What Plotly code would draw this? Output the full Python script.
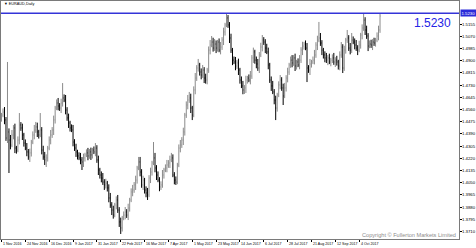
import plotly.graph_objects as go

# ---------------- data (EURAUD daily) ----------------
opens = [1.4500, 1.4521, 1.4542, 1.4487, 1.4361, 1.4403, 1.4347, 1.4312, 1.4382, 1.4431,
         1.4291, 1.4277, 1.4347, 1.4452, 1.4431, 1.4382, 1.4326, 1.4291, 1.4264, 1.4229,
         1.4257, 1.4333, 1.4382, 1.4417, 1.4438, 1.4403, 1.4382, 1.4417, 1.4277, 1.4229,
         1.4208, 1.4222, 1.4291, 1.4347, 1.4382, 1.4417, 1.4487, 1.4570, 1.4605, 1.4584,
         1.4570, 1.4605, 1.4640, 1.4626, 1.4556, 1.4501, 1.4466, 1.4431, 1.4417, 1.4333,
         1.4291, 1.4264, 1.4236, 1.4222, 1.4208, 1.4194, 1.4222, 1.4243, 1.4257, 1.4236,
         1.4264, 1.4243, 1.4277, 1.4264, 1.4291, 1.4208, 1.4138, 1.4103, 1.4082, 1.4054,
         1.4034, 1.4047, 1.4013, 1.3943, 1.3894, 1.3859, 1.3824, 1.3894, 1.3929, 1.3859,
         1.3776, 1.3734, 1.3803, 1.3824, 1.3845, 1.3824, 1.3873, 1.3929, 1.3985, 1.3999,
         1.4034, 1.4068, 1.4152, 1.4194, 1.4124, 1.4034, 1.4068, 1.3999, 1.3978, 1.3964,
         1.4082, 1.4124, 1.4187, 1.4222, 1.4152, 1.4103, 1.4068, 1.4020, 1.4034, 1.4103,
         1.4138, 1.4152, 1.4173, 1.4187, 1.4208, 1.4222, 1.4103, 1.4068, 1.4054, 1.4173,
         1.4291, 1.4312, 1.4347, 1.4403, 1.4521, 1.4591, 1.4626, 1.4640, 1.4570, 1.4521,
         1.4696, 1.4779, 1.4849, 1.4870, 1.4821, 1.4800, 1.4835, 1.4779, 1.4765, 1.4835,
         1.4974, 1.5009, 1.5030, 1.4988, 1.5016, 1.4988, 1.5030, 1.4974, 1.4995, 1.5044,
         1.5100, 1.5149, 1.5198, 1.5149, 1.5058, 1.4974, 1.4904, 1.4891, 1.4863, 1.4884,
         1.4835, 1.4765, 1.4724, 1.4696, 1.4710, 1.4765, 1.4779, 1.4765, 1.4793, 1.4919,
         1.4961, 1.4904, 1.4877, 1.4849, 1.4940, 1.4995, 1.5044, 1.5030, 1.4988, 1.4961,
         1.4870, 1.4765, 1.4724, 1.4682, 1.4626, 1.4570, 1.4661, 1.4731, 1.4765, 1.4710,
         1.4654, 1.4710, 1.4779, 1.4821, 1.4870, 1.4904, 1.4884, 1.4919, 1.4863, 1.4891,
         1.4870, 1.4904, 1.4974, 1.5002, 1.5016, 1.4988, 1.4849, 1.4835, 1.4877, 1.4891,
         1.4904, 1.4940, 1.5009, 1.5044, 1.5058, 1.5023, 1.4974, 1.4940, 1.4919, 1.4904,
         1.4919, 1.4891, 1.4904, 1.4919, 1.4891, 1.4904, 1.4891, 1.4863, 1.4940, 1.4995,
         1.4849, 1.4974, 1.5044, 1.5058, 1.4988, 1.4974, 1.5044, 1.5030, 1.5009, 1.4988,
         1.4974, 1.5009, 1.5079, 1.5128, 1.5183, 1.5114, 1.5072, 1.5002, 1.5016, 1.5009,
         1.5030, 1.5023, 1.5044, 1.5072, 1.5114]

highs = [1.4536, 1.4567, 1.4577, 1.4507, 1.4891, 1.4428, 1.4382, 1.4417, 1.4451, 1.4461,
         1.4306, 1.4372, 1.4535, 1.4472, 1.4461, 1.4397, 1.4351, 1.4326, 1.4284, 1.4287,
         1.4348, 1.4407, 1.4452, 1.4473, 1.4468, 1.4418, 1.4535, 1.4437, 1.4307, 1.4264,
         1.4247, 1.4306, 1.4372, 1.4417, 1.4437, 1.4517, 1.4585, 1.4630, 1.4640, 1.4604,
         1.4635, 1.4744, 1.4665, 1.4661, 1.4576, 1.4531, 1.4481, 1.4456, 1.4452, 1.4353,
         1.4321, 1.4279, 1.4261, 1.4257, 1.4228, 1.4252, 1.4258, 1.4282, 1.4292, 1.4284,
         1.4294, 1.4292, 1.4302, 1.4326, 1.4311, 1.4238, 1.4153, 1.4128, 1.4117, 1.4074,
         1.4077, 1.4062, 1.4038, 1.3978, 1.3914, 1.3889, 1.3909, 1.3954, 1.3964, 1.3879,
         1.3806, 1.3818, 1.3849, 1.3880, 1.3865, 1.3903, 1.3944, 1.4010, 1.4034, 1.4054,
         1.4098, 1.4167, 1.4229, 1.4229, 1.4144, 1.4098, 1.4083, 1.4024, 1.4013, 1.4102,
         1.4154, 1.4202, 1.4333, 1.4257, 1.4172, 1.4128, 1.4088, 1.4059, 1.4138, 1.4153,
         1.4177, 1.4208, 1.4207, 1.4238, 1.4257, 1.4247, 1.4123, 1.4093, 1.4188, 1.4316,
         1.4347, 1.4367, 1.4433, 1.4536, 1.4616, 1.4661, 1.4682, 1.4670, 1.4585, 1.4721,
         1.4814, 1.4869, 1.4912, 1.4885, 1.4846, 1.4870, 1.4855, 1.4809, 1.4850, 1.4999,
         1.5044, 1.5072, 1.5060, 1.5051, 1.5041, 1.5045, 1.5055, 1.5030, 1.5064, 1.5130,
         1.5164, 1.5230, 1.5218, 1.5169, 1.5088, 1.4989, 1.4929, 1.4926, 1.4904, 1.4914,
         1.4850, 1.4790, 1.4759, 1.4730, 1.4795, 1.4794, 1.4804, 1.4828, 1.4939, 1.4991,
         1.4976, 1.4929, 1.4912, 1.4960, 1.5025, 1.5079, 1.5064, 1.5050, 1.5018, 1.4991,
         1.4885, 1.4790, 1.4759, 1.4702, 1.4656, 1.4676, 1.4756, 1.4800, 1.4785, 1.4740,
         1.4745, 1.4799, 1.4851, 1.4885, 1.4929, 1.4939, 1.4939, 1.4949, 1.4906, 1.4916,
         1.4939, 1.4994, 1.5032, 1.5031, 1.5041, 1.5023, 1.4869, 1.4912, 1.4906, 1.4929,
         1.4975, 1.5029, 1.5074, 1.5170, 1.5093, 1.5043, 1.4989, 1.4965, 1.4954, 1.4939,
         1.4949, 1.4919, 1.4944, 1.4954, 1.4924, 1.4934, 1.4906, 1.4965, 1.5030, 1.5015,
         1.5004, 1.5059, 1.5114, 1.5078, 1.5023, 1.5093, 1.5069, 1.5055, 1.5044, 1.5008,
         1.5039, 1.5094, 1.5153, 1.5230, 1.5203, 1.5144, 1.5092, 1.5041, 1.5046, 1.5050,
         1.5060, 1.5059, 1.5097, 1.5144, 1.5230]

lows = [1.4475, 1.4506, 1.4457, 1.4341, 1.4326, 1.4117, 1.4282, 1.4297, 1.4352, 1.4256,
        1.4252, 1.4262, 1.4317, 1.4411, 1.4347, 1.4301, 1.4276, 1.4234, 1.4209, 1.4194,
        1.4232, 1.4318, 1.4352, 1.4397, 1.4368, 1.4357, 1.4367, 1.4247, 1.4209, 1.4173,
        1.4159, 1.4197, 1.4276, 1.4317, 1.4362, 1.4382, 1.4462, 1.4555, 1.4554, 1.4550,
        1.4535, 1.4580, 1.4611, 1.4526, 1.4481, 1.4431, 1.4406, 1.4402, 1.4303, 1.4271,
        1.4229, 1.4211, 1.4207, 1.4178, 1.4138, 1.4159, 1.4197, 1.4228, 1.4206, 1.4216,
        1.4208, 1.4218, 1.4249, 1.4234, 1.4188, 1.4103, 1.4078, 1.4052, 1.4034, 1.3999,
        1.4009, 1.3988, 1.3913, 1.3874, 1.3824, 1.3799, 1.3809, 1.3864, 1.3839, 1.3741,
        1.3692, 1.3709, 1.3788, 1.3794, 1.3804, 1.3789, 1.3848, 1.3914, 1.3955, 1.3979,
        1.3999, 1.4043, 1.4137, 1.4094, 1.4014, 1.3999, 1.3974, 1.3948, 1.3929, 1.3949,
        1.4047, 1.4099, 1.4172, 1.4122, 1.4068, 1.4053, 1.3990, 1.3999, 1.4014, 1.4078,
        1.4123, 1.4122, 1.4153, 1.4152, 1.4193, 1.4088, 1.4038, 1.4034, 1.4039, 1.4158,
        1.4261, 1.4292, 1.4312, 1.4378, 1.4501, 1.4561, 1.4606, 1.4535, 1.4486, 1.4506,
        1.4666, 1.4759, 1.4824, 1.4796, 1.4770, 1.4780, 1.4744, 1.4740, 1.4735, 1.4815,
        1.4944, 1.4994, 1.4963, 1.4968, 1.4953, 1.4963, 1.4959, 1.4944, 1.4975, 1.5009,
        1.5075, 1.5134, 1.5129, 1.5023, 1.4954, 1.4869, 1.4876, 1.4833, 1.4843, 1.4800,
        1.4740, 1.4709, 1.4666, 1.4668, 1.4675, 1.4740, 1.4750, 1.4735, 1.4773, 1.4884,
        1.4879, 1.4847, 1.4829, 1.4814, 1.4925, 1.4965, 1.5010, 1.4953, 1.4946, 1.4840,
        1.4745, 1.4689, 1.4667, 1.4596, 1.4486, 1.4545, 1.4646, 1.4701, 1.4690, 1.4591,
        1.4639, 1.4685, 1.4749, 1.4801, 1.4850, 1.4854, 1.4864, 1.4828, 1.4838, 1.4855,
        1.4840, 1.4884, 1.4939, 1.4977, 1.4973, 1.4751, 1.4815, 1.4800, 1.4852, 1.4876,
        1.4874, 1.4920, 1.4974, 1.5029, 1.5003, 1.4939, 1.4915, 1.4889, 1.4884, 1.4869,
        1.4876, 1.4861, 1.4884, 1.4871, 1.4856, 1.4866, 1.4838, 1.4833, 1.4920, 1.4814,
        1.4829, 1.4949, 1.5024, 1.4968, 1.4944, 1.4954, 1.5015, 1.4979, 1.4968, 1.4939,
        1.4959, 1.4984, 1.5049, 1.5108, 1.5079, 1.5052, 1.4967, 1.4987, 1.4989, 1.4974,
        1.5003, 1.4998, 1.5029, 1.5042, 1.5094]

closes = [1.4521, 1.4542, 1.4487, 1.4361, 1.4403, 1.4347, 1.4312, 1.4382, 1.4431, 1.4291,
          1.4277, 1.4347, 1.4452, 1.4431, 1.4382, 1.4326, 1.4291, 1.4264, 1.4229, 1.4257,
          1.4333, 1.4382, 1.4417, 1.4438, 1.4403, 1.4382, 1.4417, 1.4277, 1.4229, 1.4208,
          1.4222, 1.4291, 1.4347, 1.4382, 1.4417, 1.4487, 1.4570, 1.4605, 1.4584, 1.4570,
          1.4605, 1.4640, 1.4626, 1.4556, 1.4501, 1.4466, 1.4431, 1.4417, 1.4333, 1.4291,
          1.4264, 1.4236, 1.4222, 1.4208, 1.4194, 1.4222, 1.4243, 1.4257, 1.4236, 1.4264,
          1.4243, 1.4277, 1.4264, 1.4291, 1.4208, 1.4138, 1.4103, 1.4082, 1.4054, 1.4034,
          1.4047, 1.4013, 1.3943, 1.3894, 1.3859, 1.3824, 1.3894, 1.3929, 1.3859, 1.3776,
          1.3734, 1.3803, 1.3824, 1.3845, 1.3824, 1.3873, 1.3929, 1.3985, 1.3999, 1.4034,
          1.4068, 1.4152, 1.4194, 1.4124, 1.4034, 1.4068, 1.3999, 1.3978, 1.3964, 1.4082,
          1.4124, 1.4187, 1.4222, 1.4152, 1.4103, 1.4068, 1.4020, 1.4034, 1.4103, 1.4138,
          1.4152, 1.4173, 1.4187, 1.4208, 1.4222, 1.4103, 1.4068, 1.4054, 1.4173, 1.4291,
          1.4312, 1.4347, 1.4403, 1.4521, 1.4591, 1.4626, 1.4640, 1.4570, 1.4521, 1.4696,
          1.4779, 1.4849, 1.4870, 1.4821, 1.4800, 1.4835, 1.4779, 1.4765, 1.4835, 1.4974,
          1.5009, 1.5030, 1.4988, 1.5016, 1.4988, 1.5030, 1.4974, 1.4995, 1.5044, 1.5100,
          1.5149, 1.5198, 1.5149, 1.5058, 1.4974, 1.4904, 1.4891, 1.4863, 1.4884, 1.4835,
          1.4765, 1.4724, 1.4696, 1.4710, 1.4765, 1.4779, 1.4765, 1.4793, 1.4919, 1.4961,
          1.4904, 1.4877, 1.4849, 1.4940, 1.4995, 1.5044, 1.5030, 1.4988, 1.4961, 1.4870,
          1.4765, 1.4724, 1.4682, 1.4626, 1.4570, 1.4661, 1.4731, 1.4765, 1.4710, 1.4654,
          1.4710, 1.4779, 1.4821, 1.4870, 1.4904, 1.4884, 1.4919, 1.4863, 1.4891, 1.4870,
          1.4904, 1.4974, 1.5002, 1.5016, 1.4988, 1.4849, 1.4835, 1.4877, 1.4891, 1.4904,
          1.4940, 1.5009, 1.5044, 1.5058, 1.5023, 1.4974, 1.4940, 1.4919, 1.4904, 1.4919,
          1.4891, 1.4904, 1.4919, 1.4891, 1.4904, 1.4891, 1.4863, 1.4940, 1.4995, 1.4849,
          1.4974, 1.5044, 1.5058, 1.4988, 1.4974, 1.5044, 1.5030, 1.5009, 1.4988, 1.4974,
          1.5009, 1.5079, 1.5128, 1.5183, 1.5114, 1.5072, 1.5002, 1.5016, 1.5009, 1.5030,
          1.5023, 1.5044, 1.5072, 1.5114, 1.5211]

date_labels = ["1 Nov 2016", "24 Nov 2016", "16 Dec 2016", "9 Jan 2017", "31 Jan 2017",
               "22 Feb 2017", "16 Mar 2017", "7 Apr 2017", "1 May 2017", "23 May 2017",
               "14 Jun 2017", "6 Jul 2017", "28 Jul 2017", "21 Aug 2017", "12 Sep 2017",
               "4 Oct 2017"]
bars_per_label = 16

price_ticks = [1.5155, 1.5070, 1.4985, 1.4900, 1.4815, 1.4730, 1.4645, 1.4560, 1.4475,
               1.4390, 1.4305, 1.4220, 1.4135, 1.4050, 1.3965, 1.3880, 1.3795, 1.3710,
               1.3625]

current_price = 1.5230
symbol_title = "EURAUD,Daily"
copyright_text = "Copyright © Fullerton Markets Limited"

# ---------------- figure ----------------
FONT = "Liberation Sans, Arial, sans-serif"
bar_index = list(range(len(closes)))

fig = go.Figure()
fig.add_trace(go.Ohlc(
    x=bar_index, open=opens, high=highs, low=lows, close=closes,
    increasing=dict(line=dict(color="#8a8a8a", width=1)),
    decreasing=dict(line=dict(color="#000000", width=1)),
    tickwidth=0.3, hoverinfo="skip", showlegend=False,
))

# current price line
fig.add_shape(type="line", xref="paper", x0=0, x1=1, yref="y",
              y0=current_price, y1=current_price,
              line=dict(color="#3434d8", width=1.5))

annotations = []
# date labels (left-aligned at their tick)
tick_x = [k * bars_per_label for k in range(len(date_labels))]
for xv, lab in zip(tick_x, date_labels):
    annotations.append(dict(x=xv, xref="x", y=-0.021, yref="paper", text=lab,
                            xanchor="left", yanchor="middle", showarrow=False,
                            xshift=-0.5, font=dict(family=FONT, size=3.6, color="#000000")))
# price labels on the right
for pv in price_ticks:
    annotations.append(dict(x=1, xref="paper", y=pv, yref="y", text=f"{pv:.4f}",
                            xanchor="left", yanchor="middle", showarrow=False, xshift=1,
                            font=dict(family=FONT, size=4.3, color="#000000")))
# current price box on the scale
annotations.append(dict(x=1, xref="paper", y=current_price, yref="y",
                        text=f"{current_price:.4f}", xanchor="left", yanchor="middle",
                        showarrow=False, xshift=1, bgcolor="#2b2bd9", borderpad=0.5,
                        font=dict(family=FONT, size=4.3, color="#ffffff")))
# big price text
annotations.append(dict(x=0.8965, xref="paper", y=1.5163, yref="y",
                        text=f"{current_price:.4f}", xanchor="left", yanchor="middle",
                        showarrow=False,
                        font=dict(family=FONT, size=12, color="#2424e6")))
# title
annotations.append(dict(x=0.002, xref="paper", y=0.988, yref="paper",
                        text="▼ " + symbol_title, xanchor="left", yanchor="middle",
                        showarrow=False,
                        font=dict(family=FONT, size=3.8, color="#000000")))
# copyright
annotations.append(dict(x=0.998, xref="paper", y=0.017, yref="paper",
                        text=copyright_text, xanchor="right", yanchor="middle",
                        showarrow=False,
                        font=dict(family=FONT, size=5.6, color="#8c8c8c")))

fig.update_layout(
    width=476, height=248,
    margin=dict(l=1, r=17, t=1, b=9),
    paper_bgcolor="#ffffff", plot_bgcolor="#ffffff",
    annotations=annotations,
    xaxis=dict(range=[-0.34, 307], showgrid=False, zeroline=False,
               rangeslider=dict(visible=False),
               showline=True, linecolor="#7a7a7a", linewidth=1, mirror=True,
               tickmode="array", tickvals=tick_x, ticks="outside", ticklen=2,
               tickcolor="#000000", showticklabels=False),
    yaxis=dict(range=[1.3657, 1.5316], side="right", showgrid=False, zeroline=False,
               showline=True, linecolor="#7a7a7a", linewidth=1, mirror=True,
               tickmode="array", tickvals=price_ticks, ticks="outside", ticklen=2,
               tickcolor="#000000", showticklabels=False),
)

fig.write_html("out.html")
